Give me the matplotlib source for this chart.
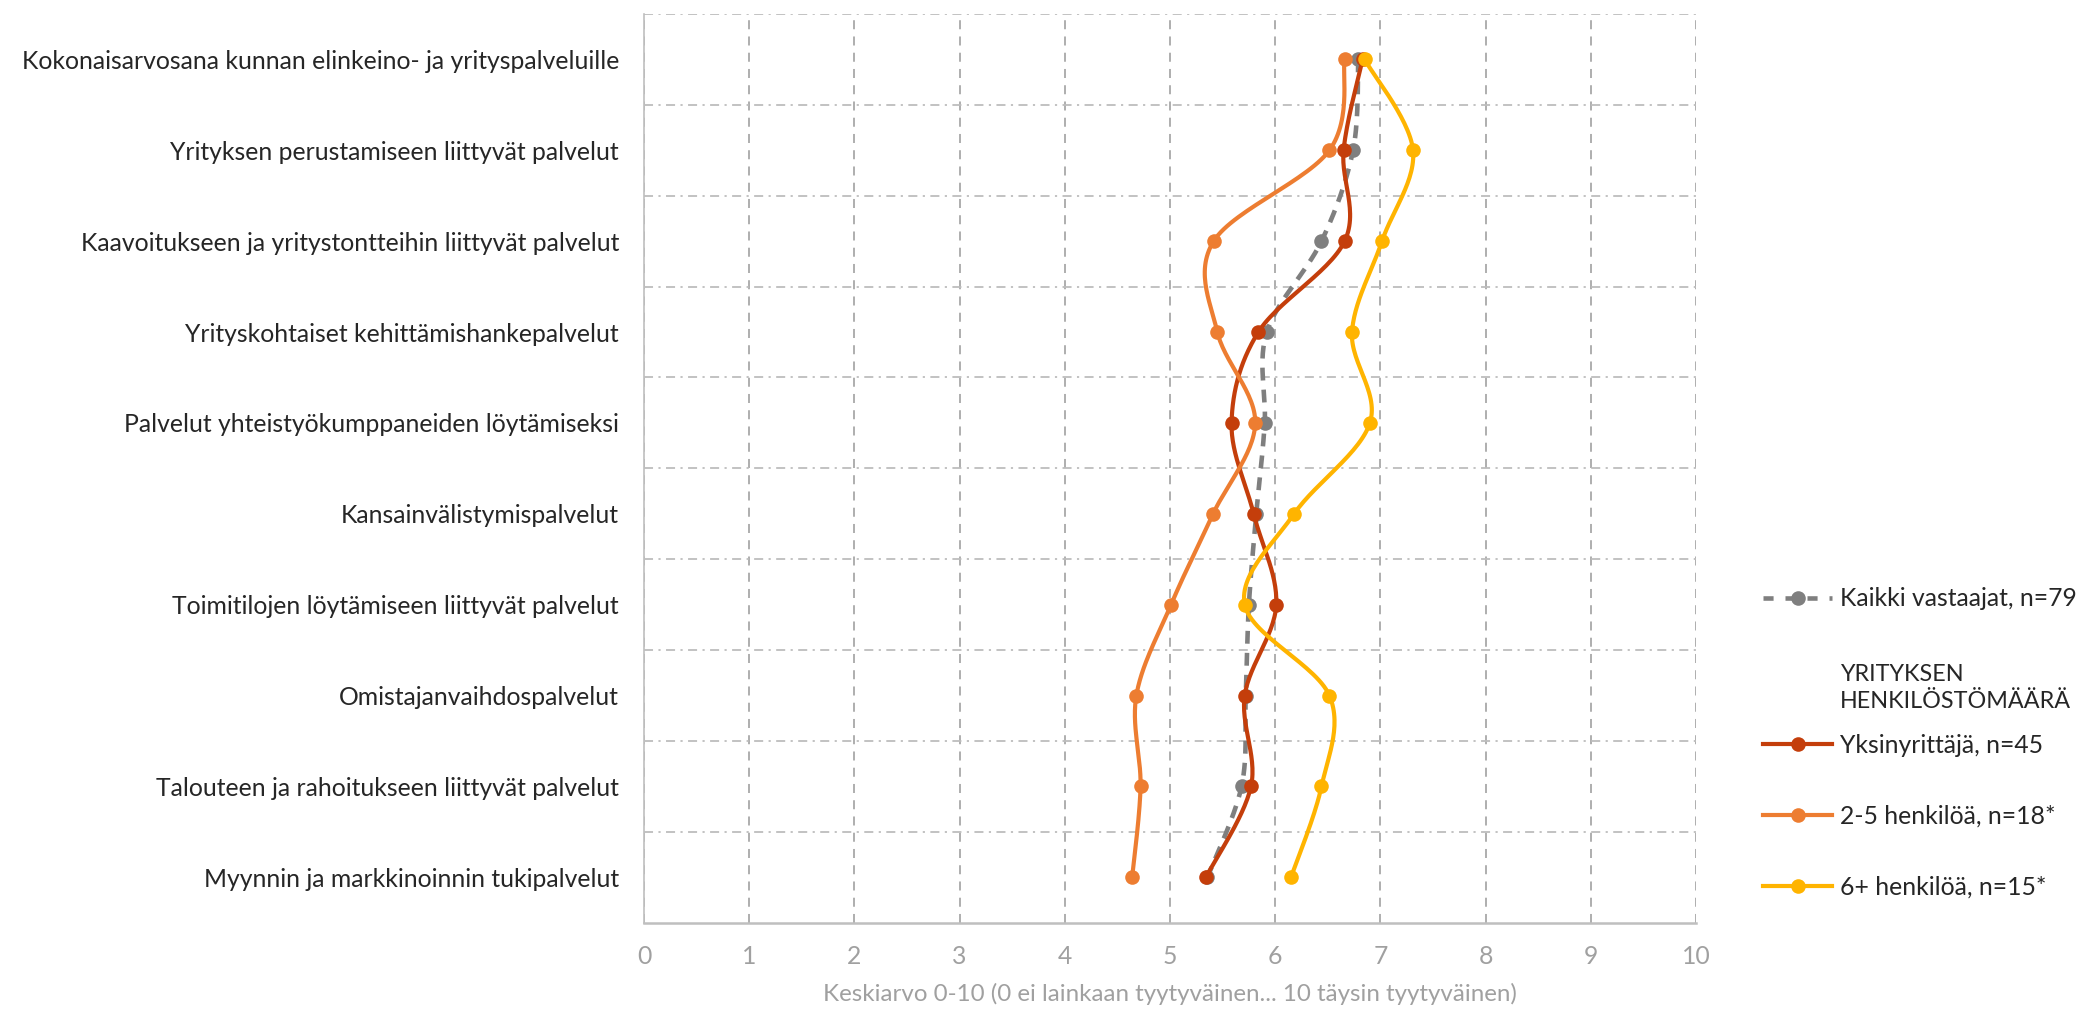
import numpy as np
import matplotlib
matplotlib.use("Agg")
import matplotlib.pyplot as plt
from matplotlib.lines import Line2D

plt.rcParams['font.family'] = ['Lato', 'DejaVu Sans']

categories = [
    "Kokonaisarvosana kunnan elinkeino- ja yrityspalveluille",
    "Yrityksen perustamiseen liittyvät palvelut",
    "Kaavoitukseen ja yritystontteihin liittyvät palvelut",
    "Yrityskohtaiset kehittämishankepalvelut",
    "Palvelut yhteistyökumppaneiden löytämiseksi",
    "Kansainvälistymispalvelut",
    "Toimitilojen löytämiseen liittyvät palvelut",
    "Omistajanvaihdospalvelut",
    "Talouteen ja rahoitukseen liittyvät palvelut",
    "Myynnin ja markkinoinnin tukipalvelut",
]
kaikki = [6.79, 6.74, 6.44, 5.92, 5.90, 5.82, 5.75, 5.72, 5.68, 5.355]
yksinyrittaja = [6.83, 6.65, 6.66, 5.84, 5.585, 5.795, 6.01, 5.71, 5.77, 5.34]
henkiloa_2_5 = [6.66, 6.515, 5.415, 5.45, 5.81, 5.41, 5.01, 4.68, 4.72, 4.64]
henkiloa_6 = [6.85, 7.31, 7.015, 6.73, 6.90, 6.18, 5.71, 6.515, 6.44, 6.15]

series_labels = ["Kaikki vastaajat, n=79", "Yksinyrittäjä, n=45",
                 "2-5 henkilöä, n=18*", "6+ henkilöä, n=15*"]
header_text = "YRITYKSEN\nHENKILÖSTÖMÄÄRÄ"
x_ticks = list(range(0, 11))
x_label = "Keskiarvo 0-10 (0 ei lainkaan tyytyväinen... 10 täysin tyytyväinen)"

colors = ["#7F7F7F", "#C43E0B", "#ED7D31", "#FFB400"]
FS = 17.8


def smooth(x, y, n=30):
    P = np.column_stack([x, y]).astype(float)
    P = np.vstack([P[0], P, P[-1]])
    out = []
    t = np.linspace(0, 1, n, endpoint=False)[:, None]
    for i in range(1, len(P) - 2):
        p0, p1, p2, p3 = P[i - 1], P[i], P[i + 1], P[i + 2]
        seg = 0.5 * ((2 * p1) + (-p0 + p2) * t
                     + (2 * p0 - 5 * p1 + 4 * p2 - p3) * t ** 2
                     + (-p0 + 3 * p1 - 3 * p2 + p3) * t ** 3)
        out.append(seg)
    out.append(P[-2][None])
    S = np.vstack(out)
    return S[:, 0], S[:, 1]


W, H = 2087, 1016
fig = plt.figure(figsize=(W / 100, H / 100), dpi=100)
ax = fig.add_axes([644 / W, 1 - 922.7 / H, (1696 - 644) / W, (922.7 - 14) / H])

ypos = np.arange(len(categories))
all_series = [kaikki, yksinyrittaja, henkiloa_2_5, henkiloa_6]
handles = []
MS = 10.5
LW = 3.0
for i, (vals, col, lab) in enumerate(zip(all_series, colors, series_labels)):
    sx, sy = smooth(vals, ypos)
    if i == 0:
        ax.plot(sx, sy, color=col, lw=LW + 0.3, dashes=(2.8, 2.0), zorder=3 + i)
        h = Line2D([], [], color=col, lw=LW + 0.3, dashes=(2.2, 2.6), marker='o', markersize=MS,
                   markeredgewidth=0)
    else:
        ax.plot(sx, sy, color=col, lw=LW, zorder=3 + i, solid_capstyle='round')
        h = Line2D([], [], color=col, lw=LW, marker='o', markersize=MS, markeredgewidth=0)
    ax.plot(vals, ypos, linestyle='none', marker='o', markersize=MS, color=col,
            markeredgewidth=0, zorder=3 + i)
    handles.append(h)

ax.set_xlim(0, 10)
ax.set_ylim(len(categories) - 0.5, -0.5)
ax.set_xticks(x_ticks)
ax.set_yticks(ypos)
ax.set_yticklabels(categories, fontsize=FS, color="#262626")
ax.set_yticks(np.arange(-0.5, len(categories) - 0.5, 1), minor=True)
ax.tick_params(axis='y', which='both', length=0, pad=18)
ax.tick_params(axis='x', length=0, pad=16, labelsize=FS, labelcolor="#A0A0A0")
ax.set_xlabel(x_label, fontsize=FS - 0.4, color="#A0A0A0", labelpad=11)

ax.grid(axis='x', which='major', color="#A8A8A8", lw=1.3, linestyle=(0, (5, 4)))
ax.grid(axis='y', which='minor', color="#BDBDBD", lw=1.3, linestyle=(0, (5, 3, 1.2, 3)))
ax.grid(axis='y', which='major', visible=False)
ax.set_axisbelow(True)
for s in ['top', 'right']:
    ax.spines[s].set_visible(False)
ax.spines['left'].set_color("#BFBFBF")
ax.spines['left'].set_linewidth(1.2)
ax.spines['bottom'].set_color("#BFBFBF")
ax.spines['bottom'].set_linewidth(1.8)

leg1 = fig.legend([handles[0]], [series_labels[0]], loc='center left',
                  bbox_to_anchor=(1763 / W, 1 - 599 / H), frameon=False, fontsize=FS,
                  handlelength=2.8, handletextpad=0.33, borderpad=0, borderaxespad=0,
                  labelcolor="#262626")
fig.text(1840 / W, 1 - 688 / H, header_text, ha='left', va='center', fontsize=16.8,
         color="#262626", linespacing=1.4)
leg2 = fig.legend(handles[1:], series_labels[1:], loc='upper left',
                  bbox_to_anchor=(1763 / W, 1 - 734 / H), frameon=False, fontsize=FS,
                  handlelength=2.8, handletextpad=0.33, borderpad=0, borderaxespad=0,
                  labelspacing=1.93, labelcolor="#262626")

fig.savefig("out.png", dpi=100)
